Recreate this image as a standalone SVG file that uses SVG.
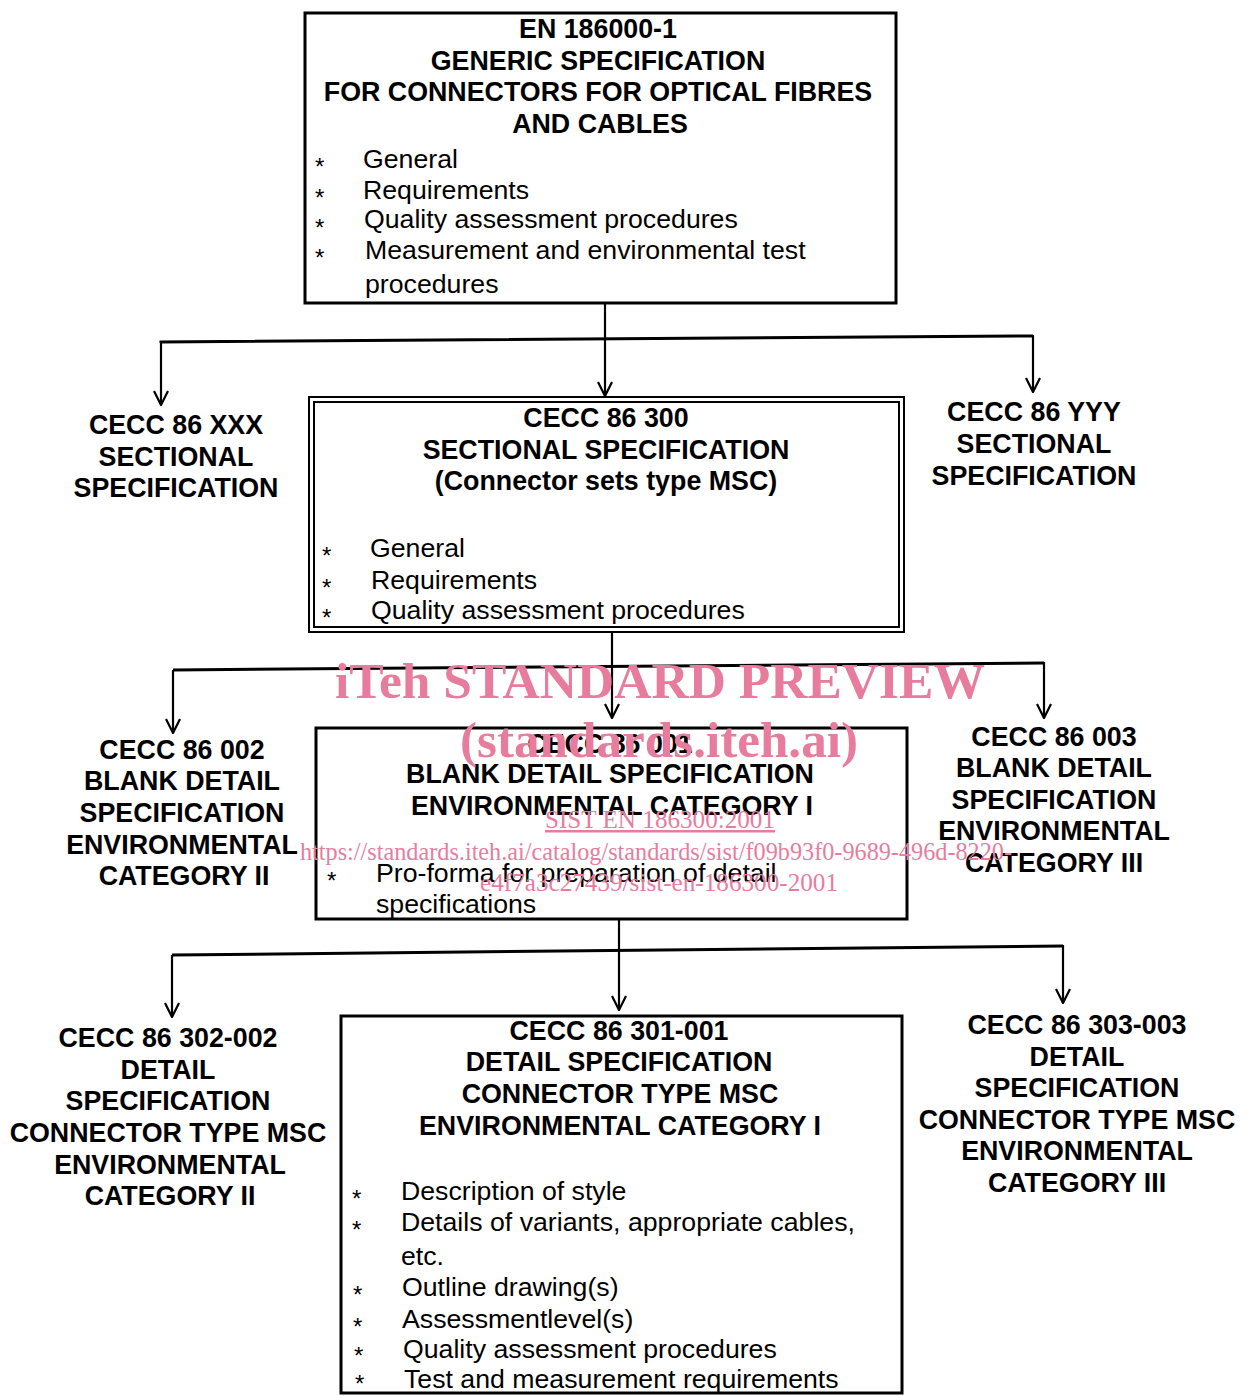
<svg xmlns="http://www.w3.org/2000/svg" width="1246" height="1396" viewBox="0 0 1246 1396">
<style>
.h{font-family:"Liberation Sans",Arial,sans-serif;font-weight:bold;font-size:26.8px;text-anchor:middle;fill:#000}
.b{font-family:"Liberation Sans",Arial,sans-serif;font-size:26.7px;fill:#000}
.s{font-family:"Liberation Sans",Arial,sans-serif;font-size:24px;fill:#000}
.box{fill:none;stroke:#000;stroke-width:3}
.dbl{fill:none;stroke:#000;stroke-width:2}
.ln{fill:none;stroke:#000;stroke-width:3}
.vl{fill:none;stroke:#000;stroke-width:2.2;marker-end:url(#arr)}
.wm{font-family:"Liberation Serif","Times New Roman",serif;fill:#e87c9e}
</style>
<defs>
<marker id="arr" markerUnits="userSpaceOnUse" viewBox="0 0 16 16" refX="15" refY="8" markerWidth="16" markerHeight="16" orient="auto">
<path d="M1,1 L15,8 L1,15" fill="none" stroke="#000" stroke-width="2.2"/>
</marker>
</defs>
<rect width="1246" height="1396" fill="#fff"/>

<g id="connectors">
<line class="vl" x1="605" y1="304" x2="605" y2="396"/>
<polyline class="ln" points="161,343 161,342 1033,336"/>
<line class="vl" x1="161" y1="342" x2="161" y2="405"/>
<line class="vl" x1="1033" y1="335" x2="1033" y2="392"/>

<line class="vl" x1="612" y1="632" x2="612" y2="718"/>
<polyline class="ln" points="173,670 1044,663"/>
<line class="vl" x1="173" y1="670" x2="173" y2="733"/>
<line class="vl" x1="1044" y1="662" x2="1044" y2="718"/>

<line class="vl" x1="619" y1="920" x2="619" y2="1010"/>
<polyline class="ln" points="172,955 1063,946"/>
<line class="vl" x1="172" y1="955" x2="172" y2="1017"/>
<line class="vl" x1="1063" y1="945" x2="1063" y2="1003"/>
</g>

<g id="n-en186000">
<rect class="box" x="305" y="13" width="591" height="290"/>
<text class="h" x="598" y="38">EN 186000-1</text>
<text class="h" x="598" y="70">GENERIC SPECIFICATION</text>
<text class="h" x="598" y="101">FOR CONNECTORS FOR OPTICAL FIBRES</text>
<text class="h" x="600" y="133">AND CABLES</text>
<text class="s" x="315" y="175">*</text><text class="b" x="363" y="168">General</text>
<text class="s" x="315" y="206">*</text><text class="b" x="363" y="199">Requirements</text>
<text class="s" x="315" y="236">*</text><text class="b" x="364" y="228">Quality assessment procedures</text>
<text class="s" x="315" y="266">*</text><text class="b" x="365" y="259">Measurement and environmental test</text>
<text class="b" x="365" y="293">procedures</text>
</g>

<g id="n-cecc86xxx">
<text class="h" x="176" y="434">CECC 86 XXX</text>
<text class="h" x="176" y="466">SECTIONAL</text>
<text class="h" x="176" y="497">SPECIFICATION</text>
</g>

<g id="n-cecc86300">
<rect class="dbl" x="309" y="397" width="595" height="235"/>
<rect class="dbl" x="314" y="402" width="585" height="225"/>
<text class="h" x="606" y="427">CECC 86 300</text>
<text class="h" x="606" y="459">SECTIONAL SPECIFICATION</text>
<text class="h" x="606" y="490">(Connector sets type MSC)</text>
<text class="s" x="322" y="564">*</text><text class="b" x="370" y="557">General</text>
<text class="s" x="322" y="596">*</text><text class="b" x="371" y="589">Requirements</text>
<text class="s" x="322" y="626">*</text><text class="b" x="371" y="619">Quality assessment procedures</text>
</g>

<g id="n-cecc86yyy">
<text class="h" x="1034" y="421">CECC 86 YYY</text>
<text class="h" x="1034" y="453">SECTIONAL</text>
<text class="h" x="1034" y="485">SPECIFICATION</text>
</g>

<g id="n-cecc86002">
<text class="h" x="182" y="759">CECC 86 002</text>
<text class="h" x="182" y="790">BLANK DETAIL</text>
<text class="h" x="182" y="822">SPECIFICATION</text>
<text class="h" x="182" y="854">ENVIRONMENTAL</text>
<text class="h" x="184" y="885">CATEGORY II</text>
</g>

<g id="n-cecc86001">
<rect class="box" x="316" y="728" width="591" height="191"/>
<text class="h" x="610" y="753">CECC 86 001</text>
<text class="h" x="610" y="783">BLANK DETAIL SPECIFICATION</text>
<text class="h" x="612" y="815">ENVIRONMENTAL CATEGORY I</text>
<text class="s" x="327" y="889">*</text><text class="b" x="376" y="882">Pro-forma for preparation of detail</text>
<text class="b" x="376" y="913">specifications</text>
</g>

<g id="n-cecc86003">
<text class="h" x="1054" y="746">CECC 86 003</text>
<text class="h" x="1054" y="777">BLANK DETAIL</text>
<text class="h" x="1054" y="809">SPECIFICATION</text>
<text class="h" x="1054" y="840">ENVIRONMENTAL</text>
<text class="h" x="1054" y="872">CATEGORY III</text>
</g>

<g id="n-cecc86302002">
<text class="h" x="168" y="1047">CECC 86 302-002</text>
<text class="h" x="168" y="1079">DETAIL</text>
<text class="h" x="168" y="1110">SPECIFICATION</text>
<text class="h" x="168" y="1142">CONNECTOR TYPE MSC</text>
<text class="h" x="170" y="1174">ENVIRONMENTAL</text>
<text class="h" x="170" y="1205">CATEGORY II</text>
</g>

<g id="n-cecc86301001">
<rect class="box" x="341" y="1016" width="561" height="377"/>
<text class="h" x="619" y="1040">CECC 86 301-001</text>
<text class="h" x="619" y="1071">DETAIL SPECIFICATION</text>
<text class="h" x="620" y="1103">CONNECTOR TYPE MSC</text>
<text class="h" x="620" y="1135">ENVIRONMENTAL CATEGORY I</text>
<text class="s" x="352" y="1207">*</text><text class="b" x="401" y="1200">Description of style</text>
<text class="s" x="352" y="1238">*</text><text class="b" x="401" y="1231">Details of variants, appropriate cables,</text>
<text class="b" x="401" y="1265">etc.</text>
<text class="s" x="353" y="1303">*</text><text class="b" x="402" y="1296">Outline drawing(s)</text>
<text class="s" x="353" y="1335">*</text><text class="b" x="402" y="1328">Assessmentlevel(s)</text>
<text class="s" x="354" y="1364">*</text><text class="b" x="403" y="1358">Quality assessment procedures</text>
<text class="s" x="355" y="1392">*</text><text class="b" x="404" y="1388">Test and measurement requirements</text>
</g>

<g id="n-cecc86303003">
<text class="h" x="1077" y="1034">CECC 86 303-003</text>
<text class="h" x="1077" y="1066">DETAIL</text>
<text class="h" x="1077" y="1097">SPECIFICATION</text>
<text class="h" x="1077" y="1129">CONNECTOR TYPE MSC</text>
<text class="h" x="1077" y="1160">ENVIRONMENTAL</text>
<text class="h" x="1077" y="1192">CATEGORY III</text>
</g>

<g id="watermark">
<text class="wm" x="335" y="698" font-size="50" font-weight="bold" textLength="650" lengthAdjust="spacingAndGlyphs">iTeh STANDARD PREVIEW</text>
<text class="wm" x="460" y="757" font-size="50" font-weight="bold" textLength="398" lengthAdjust="spacingAndGlyphs">(standards.iteh.ai)</text>
<text class="wm" x="545" y="828" font-size="25" text-decoration="underline" textLength="230" lengthAdjust="spacingAndGlyphs">SIST EN 186300:2001</text>
<text class="wm" x="300" y="860" font-size="25" textLength="712" lengthAdjust="spacingAndGlyphs">https://standards.iteh.ai/catalog/standards/sist/f09b93f0-9689-496d-8220-</text>
<text class="wm" x="480" y="891" font-size="25" textLength="358" lengthAdjust="spacingAndGlyphs">e4f7a3c27439/sist-en-186300-2001</text>
</g>
</svg>
